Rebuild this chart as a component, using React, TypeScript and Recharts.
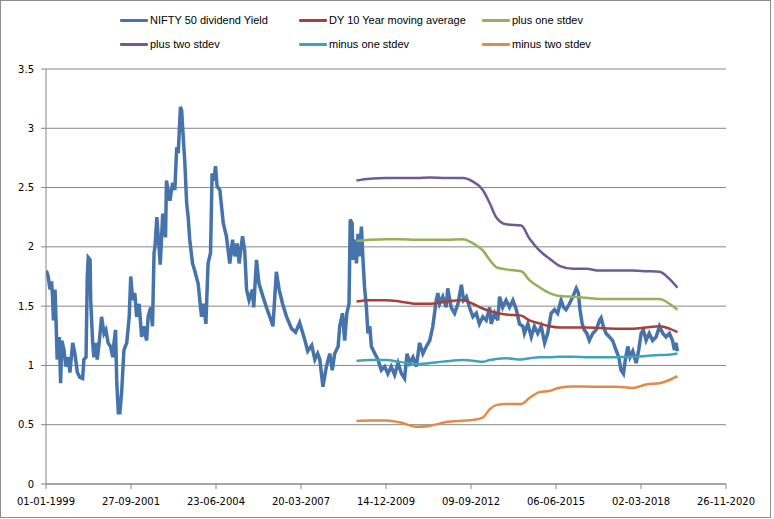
import React from "react";
import { LineChart, Line, XAxis, YAxis, CartesianGrid } from "recharts";

// NIFTY 50 dividend yield: [decimal year, value]
const niftyYield: [number, number][] = [
  [1999.01,1.80],[1999.07,1.75],[1999.13,1.64],[1999.18,1.71],[1999.21,1.58],[1999.24,1.38],[1999.29,1.64],[1999.32,1.41],[1999.36,1.05],[1999.43,1.24],[1999.47,0.85],[1999.51,1.21],[1999.58,1.13],[1999.64,0.99],[1999.72,1.07],[1999.77,0.94],[1999.86,1.19],[1999.93,1.10],
  [2000.01,0.94],[2000.09,0.90],[2000.18,0.89],[2000.22,1.05],[2000.29,1.07],[2000.33,1.75],[2000.36,1.91],[2000.42,1.89],[2000.44,1.55],[2000.50,1.21],[2000.54,1.07],[2000.61,1.19],[2000.65,1.05],[2000.72,1.21],[2000.79,1.41],[2000.87,1.27],[2000.93,1.30],
  [2001.00,1.19],[2001.08,1.16],[2001.15,1.07],[2001.19,1.19],[2001.24,1.30],[2001.28,0.85],[2001.33,0.60],[2001.38,0.60],[2001.44,0.79],[2001.51,1.13],[2001.60,1.19],[2001.68,1.41],[2001.73,1.75],[2001.79,1.55],[2001.86,1.61],[2001.92,1.41],
  [2002.00,1.52],[2002.08,1.24],[2002.15,1.33],[2002.24,1.21],[2002.29,1.41],[2002.37,1.49],[2002.43,1.33],[2002.48,1.95],[2002.51,2.00],[2002.57,2.25],[2002.68,1.85],[2002.76,2.28],[2002.85,2.08],[2002.88,2.56],[2002.99,2.39],
  [2003.08,2.54],[2003.15,2.48],[2003.21,2.84],[2003.26,2.79],[2003.33,3.18],[2003.37,3.15],[2003.40,3.01],[2003.47,2.72],[2003.53,2.37],[2003.58,2.25],[2003.63,2.06],[2003.72,1.86],[2003.79,1.80],[2003.90,1.69],
  [2004.01,1.41],[2004.08,1.52],[2004.15,1.35],[2004.22,1.86],[2004.30,1.95],[2004.35,2.62],[2004.41,2.56],[2004.46,2.68],[2004.51,2.51],[2004.60,2.48],[2004.71,2.20],[2004.81,2.09],[2004.92,1.86],
  [2005.01,2.06],[2005.08,1.92],[2005.16,2.03],[2005.22,1.86],[2005.33,2.09],[2005.40,1.97],[2005.46,1.64],[2005.54,1.55],[2005.65,1.64],[2005.69,1.49],[2005.78,1.89],[2005.86,1.69],[2005.99,1.58],
  [2006.10,1.49],[2006.21,1.41],[2006.31,1.33],[2006.42,1.79],[2006.51,1.64],[2006.62,1.52],[2006.75,1.41],[2006.91,1.31],
  [2007.04,1.28],[2007.17,1.36],[2007.33,1.22],[2007.43,1.12],[2007.56,1.17],[2007.66,1.05],[2007.75,1.10],[2007.82,1.05],[2007.92,0.82],
  [2008.03,0.99],[2008.14,1.10],[2008.22,0.96],[2008.30,1.10],[2008.41,1.16],[2008.46,1.33],[2008.55,1.44],[2008.62,1.21],[2008.69,1.44],[2008.76,1.52],[2008.80,2.23],[2008.86,2.20],[2008.89,1.89],[2008.94,2.06],
  [2009.00,1.86],[2009.05,2.11],[2009.10,1.92],[2009.16,2.17],[2009.21,1.89],[2009.26,1.66],[2009.32,1.49],[2009.37,1.27],[2009.43,1.33],[2009.48,1.16],[2009.59,1.10],[2009.69,1.05],[2009.80,0.96],[2009.91,0.99],
  [2010.01,0.93],[2010.12,0.99],[2010.23,0.92],[2010.34,1.02],[2010.45,0.93],[2010.55,0.89],[2010.63,1.10],[2010.71,1.02],[2010.82,1.07],[2010.93,0.99],
  [2011.03,1.19],[2011.14,1.10],[2011.25,1.16],[2011.36,1.21],[2011.46,1.33],[2011.57,1.55],[2011.62,1.61],[2011.68,1.52],[2011.78,1.58],[2011.89,1.49],[2011.94,1.65],
  [2012.05,1.49],[2012.16,1.44],[2012.27,1.52],[2012.38,1.68],[2012.45,1.55],[2012.54,1.58],[2012.64,1.49],[2012.75,1.41],[2012.86,1.44],[2012.96,1.35],
  [2013.07,1.41],[2013.18,1.38],[2013.29,1.49],[2013.34,1.35],[2013.45,1.44],[2013.55,1.38],[2013.61,1.58],[2013.71,1.49],[2013.82,1.55],[2013.93,1.49],
  [2014.04,1.55],[2014.15,1.47],[2014.25,1.35],[2014.36,1.33],[2014.41,1.27],[2014.52,1.35],[2014.63,1.24],[2014.73,1.33],[2014.84,1.27],[2014.95,1.33],
  [2015.06,1.19],[2015.16,1.27],[2015.27,1.44],[2015.38,1.47],[2015.48,1.44],[2015.59,1.55],[2015.67,1.49],[2015.75,1.47],[2015.86,1.52],[2015.97,1.58],
  [2016.08,1.65],[2016.15,1.61],[2016.20,1.47],[2016.27,1.35],[2016.34,1.30],[2016.42,1.27],[2016.50,1.21],[2016.61,1.27],[2016.72,1.30],[2016.83,1.38],[2016.88,1.40],[2016.95,1.33],
  [2017.04,1.27],[2017.15,1.24],[2017.25,1.21],[2017.36,1.13],[2017.45,1.07],[2017.52,0.96],[2017.60,0.93],[2017.66,1.05],[2017.74,1.16],[2017.81,1.07],[2017.90,1.12],
  [2018.01,1.02],[2018.09,1.13],[2018.17,1.27],[2018.24,1.30],[2018.33,1.21],[2018.43,1.27],[2018.54,1.21],[2018.65,1.24],[2018.76,1.33],[2018.87,1.27],[2018.97,1.24],
  [2019.08,1.27],[2019.18,1.21],[2019.24,1.13],[2019.29,1.19],[2019.34,1.12],
];

const bandYears = [2009.00,2009.43,2009.96,2010.39,2010.93,2011.36,2011.89,2012.43,2012.75,2013.07,2013.29,2013.50,2013.82,2014.31,2014.57,2014.89,2015.22,2015.54,2015.97,2016.40,2016.83,2017.36,2017.90,2018.33,2018.76,2019.08,2019.34];
const movingAvg = [1.54,1.55,1.55,1.54,1.52,1.52,1.54,1.55,1.52,1.48,1.46,1.445,1.43,1.42,1.38,1.355,1.33,1.32,1.32,1.32,1.315,1.31,1.31,1.32,1.33,1.31,1.28];
const plusOne = [2.05,2.06,2.065,2.065,2.06,2.06,2.06,2.065,2.03,1.97,1.89,1.83,1.81,1.795,1.72,1.66,1.61,1.585,1.58,1.57,1.56,1.56,1.56,1.56,1.56,1.52,1.47];
const plusTwo = [2.56,2.575,2.58,2.58,2.58,2.585,2.58,2.58,2.55,2.48,2.37,2.25,2.19,2.18,2.07,1.97,1.90,1.84,1.815,1.815,1.80,1.80,1.80,1.795,1.79,1.73,1.655];
const minusOne = [1.037,1.045,1.045,1.03,1.01,1.02,1.035,1.045,1.04,1.03,1.045,1.055,1.06,1.05,1.06,1.07,1.07,1.073,1.073,1.07,1.068,1.07,1.073,1.08,1.088,1.09,1.10];
const minusTwo = [0.531,0.535,0.535,0.52,0.483,0.49,0.523,0.534,0.54,0.56,0.63,0.665,0.675,0.675,0.725,0.775,0.785,0.812,0.822,0.822,0.82,0.82,0.81,0.84,0.85,0.877,0.91];

const xTicks = [0, 1000, 2000, 3000, 4000, 5000, 6000, 7000, 8000]; // days since 01-01-1999
const yTicks = [0, 0.5, 1, 1.5, 2, 2.5, 3, 3.5];

const seriesNames = ["NIFTY 50 dividend Yield", "DY 10 Year moving average", "plus one stdev", "plus two stdev", "minus one stdev", "minus two stdev"];
const colors = ["#4673AA", "#A5403D", "#93B257", "#6F5A93", "#3FA4B6", "#E38A44"];

const BASE = Date.UTC(1999, 0, 1);
const toDay = (yr: number) => (yr - 1999) * 365.25;
const fmtDate = (v: number) => {
  const d = new Date(BASE + v * 86400000);
  const p = (n: number) => String(n).padStart(2, "0");
  return `${p(d.getUTCDate())}-${p(d.getUTCMonth() + 1)}-${d.getUTCFullYear()}`;
};

const yieldData = niftyYield.map(([yr, v]) => ({ t: toDay(yr), v }));
const band = (vals: number[]) => bandYears.map((yr, i) => ({ t: toDay(yr), v: vals[i] }));
const bands = [movingAvg, plusOne, plusTwo, minusOne, minusTwo].map(band);

const legendPos = [
  { x: 120, y: 20 }, { x: 299, y: 20 }, { x: 482, y: 20 },
  { x: 120, y: 44 }, { x: 299, y: 44 }, { x: 482, y: 44 },
];

const GRID = "#868686";

export default function App() {
  return (
    <div style={{ position: "absolute", left: 0, top: 0, width: 774, height: 519, background: "#fff" }}>
      <div style={{ position: "absolute", left: 0, top: 0, width: 771, height: 518, boxSizing: "border-box", border: "1px solid #8c8c8c" }} />
      {seriesNames.map((name, i) => (
        <div key={name} style={{ position: "absolute", left: legendPos[i].x, top: legendPos[i].y - 8, height: 16, display: "flex", alignItems: "center", fontFamily: "'Liberation Sans', Arial, sans-serif", fontSize: 11, color: "#000", whiteSpace: "nowrap" }}>
          <div style={{ width: 28, height: 3, background: colors[i], marginRight: 2, borderRadius: 1 }} />
          <span>{name}</span>
        </div>
      ))}
      <LineChart width={774} height={519} margin={{ top: 69, right: 48, bottom: 5, left: 0 }} style={{ position: "absolute", left: 0, top: 0 }}>
        <CartesianGrid vertical={false} stroke={GRID} strokeWidth={1} />
        <XAxis
          type="number"
          dataKey="t"
          domain={[0, 8000]}
          ticks={xTicks}
          tickFormatter={fmtDate}
          height={30}
          stroke={GRID}
          tickSize={5}
          tickMargin={9}
          tick={{ fill: "#000", fontSize: 10, fontFamily: "'DejaVu Sans', sans-serif" }}
          allowDataOverflow
        />
        <YAxis
          type="number"
          domain={[0, 3.5]}
          ticks={yTicks}
          width={46}
          stroke={GRID}
          tickSize={5}
          tickMargin={7}
          tick={{ fill: "#000", fontSize: 10, fontFamily: "'DejaVu Sans', sans-serif" }}
        />
        <Line data={yieldData} dataKey="v" stroke={colors[0]} strokeWidth={3.5} dot={false} isAnimationActive={false} type="linear" />
        {bands.map((d, i) => (
          <Line key={i} data={d} dataKey="v" stroke={colors[i + 1]} strokeWidth={2.5} dot={false} isAnimationActive={false} type="monotone" />
        ))}
      </LineChart>
    </div>
  );
}
